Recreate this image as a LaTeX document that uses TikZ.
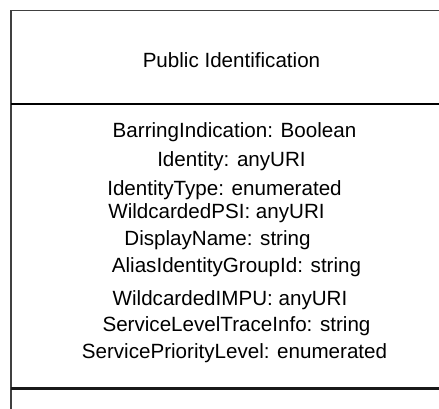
\documentclass[tikz,border=0pt]{standalone}
\usepackage{fontspec}
\setmainfont{Liberation Sans}
\usetikzlibrary{positioning}

\tikzset{
	attr/.style={anchor=base, inner sep=0pt, font=\fontsize{20.6}{25}\selectfont},
	frame/.style={line width=1.4pt, black!75},
	divider/.style={line width=1.3pt, black},
	closing/.style={line width=2.6pt, black!90}
}

\begin{document}
\begin{tikzpicture}
			[x=1pt, y=-1pt] 
			\useasboundingbox (0,0) rectangle (439,408);
			% box outline, open at the right
			\coordinate (tl) at (11,10.5);
			\coordinate (tr) at (440,10.5);
			\coordinate (bl) at (11,409);
			\coordinate (ml) at (11,104);
			\coordinate (mr) at (440,104);
			\coordinate (el) at (11,388.5);
			\coordinate (er) at (440,388.5);
			\draw[frame] (bl) -- (tl) -- (tr);
			\draw[divider] (ml) -- (mr);
			\draw[closing] (el) -- (er);
			% class name
			\node[attr] (name) at (231.5,67) {Public Identification};
			% attributes
			\node[attr] (barring) at (234.5,137.5) {BarringIndication: Boolean};
			\node[attr] (identity) at (231.5,166.5) {Identity: anyURI};
			\node[attr] (idtype) at (224.5,195) {IdentityType: enumerated};
			\node[attr] (wpsi) at (216.5,218.3) {WildcardedPSI: anyURI};
			\node[attr] (dispname) at (217.5,245) {DisplayName: string};
			\node[attr] (alias) at (236.5,272.3) {AliasIdentityGroupId: string};
			\node[attr] (wimpu) at (230,305) {WildcardedIMPU: anyURI};
			\node[attr] (trace) at (236.5,331.7) {ServiceLevelTraceInfo: string};
			\node[attr] (prio) at (234.5,358.3) {ServicePriorityLevel: enumerated};
		\end{tikzpicture}
\end{document}
